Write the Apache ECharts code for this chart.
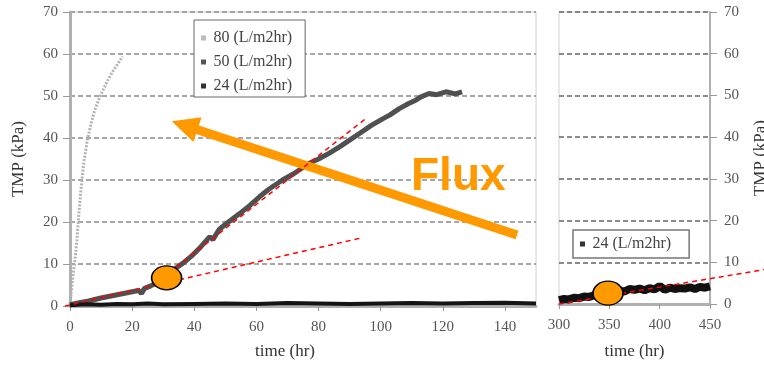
<!DOCTYPE html>
<html><head><meta charset="utf-8">
<script src="https://cdn.jsdelivr.net/npm/echarts@6/dist/echarts.min.js"></script>
<style>html,body{margin:0;padding:0;background:#fff}#c{width:764px;height:369px}</style>
</head><body><div id="c"></div>
<script>
// ---- data ----
const flux80Time = [0, 0.5, 1.0, 1.6, 2.2, 2.7, 3.2, 3.7, 4.5, 5.6, 6.8, 8.0, 9.3, 10.6, 12.2, 13.9, 15.5, 16.9];
const flux80TMP  = [0.5, 4, 7.5, 11, 15.5, 20.5, 25, 29, 34.5, 39.5, 43.5, 46.7, 49.2, 51.4, 53.8, 56, 57.8, 59.4];

const flux50Time = [0, 3, 6, 10, 14, 18, 20, 22, 23, 24, 26, 28, 30, 32, 34, 36.4, 39, 42, 45, 46, 48, 51, 54.6, 58, 61, 64, 68.4, 72, 77, 80, 83.5, 87, 90, 94, 97, 100.5, 103, 106, 109, 111.3, 113, 115.6, 118, 121, 124, 126.2];
const flux50TMP  = [0.3, 0.8, 1.2, 1.9, 2.5, 3.1, 3.4, 3.7, 3.0, 4.2, 4.8, 5.6, 6.6, 7.8, 9, 10.2, 11.8, 14, 16.5, 15.8, 18.2, 20, 22, 24, 26, 27.8, 30, 31.5, 34, 35, 36.4, 38, 39.5, 41.5, 43, 44.5, 45.5, 47, 48.2, 49, 49.8, 50.6, 50.3, 51, 50.5, 51];

const flux24TimeA = [0, 5, 10, 15, 20, 25, 30, 40, 50, 60, 70, 80, 90, 100, 110, 120, 130, 140, 150];
const flux24TMPA  = [0.2, 0.4, 0.3, 0.5, 0.4, 0.6, 0.4, 0.5, 0.6, 0.5, 0.7, 0.6, 0.5, 0.6, 0.7, 0.6, 0.7, 0.8, 0.6];

const flux24TimeB = [300, 305, 310, 315, 320, 325, 330, 335, 340, 345, 350, 355, 360, 365, 370, 375, 380, 385, 390, 395, 400, 405, 410, 415, 420, 425, 430, 435, 440, 445, 450];
const flux24TMPB  = [0.9, 1.2, 1.1, 1.5, 1.4, 1.8, 1.7, 2.1, 2.3, 2.5, 2.6, 2.9, 3.2, 3.0, 3.6, 3.4, 3.7, 3.3, 3.8, 3.5, 4.3, 3.4, 3.9, 3.6, 3.8, 3.7, 4.0, 3.6, 4.1, 3.9, 4.2];

// red dashed trend lines (endpoints)
const trendA = [[-1.6, 0], [93.7, 16.2]];
const trendB = [[32, 8], [95, 44.5]];
const trendC = [[300, 0], [505, 8.3]];

// annotation markers
const markLeft = [[31.1, 6.7]];
const markRight = [[348.7, 2.6]];
const arrowFrom = [143.9, 16.9];
const arrowTo = [36.9, 43.0];

const leftTicks = {min: 0, max: 150, interval: 20};
const rightTicks = {min: 300, max: 450, interval: 50};
const yTicks = {min: 0, max: 70, interval: 10};

const zip = (a, b) => a.map((v, i) => [v, b[i]]);

const serif = 'Liberation Serif';
const chart = echarts.init(document.getElementById('c'));

const axisLabel = {fontFamily: serif, fontSize: 15, color: '#555'};
const splitLine = {show: true, lineStyle: {color: '#8a8a8a', width: 1.5, type: [5, 3]}};
const dashRed = {color: '#ff0000', width: 1.5, type: [5, 4]};
const squareIcon = 'path://M0,0L10,0L10,10L0,10Z';

chart.setOption({
  animation: false,
  backgroundColor: '#fff',
  grid: [
    {left: 70, top: 12, width: 466, height: 294, show: true, borderColor: '#d0d0d0', borderWidth: 1,
     containLabel: false, outerBoundsMode: 'none'},
    {left: 559, top: 12, width: 151, height: 292, show: true, borderColor: '#d0d0d0', borderWidth: 1,
     containLabel: false, outerBoundsMode: 'none'}
  ],
  xAxis: [
    {gridIndex: 0, type: 'value', min: leftTicks.min, max: leftTicks.max, interval: leftTicks.interval,
     axisLine: {lineStyle: {color: '#b0b0b0', width: 3}},
     axisTick: {show: true, length: 5, lineStyle: {color: '#999'}},
     axisLabel: Object.assign({margin: 14, showMaxLabel: false}, axisLabel),
     splitLine: {show: false},
     name: 'time (hr)', nameLocation: 'middle', nameGap: 37,
     nameTextStyle: {fontFamily: serif, fontSize: 17, color: '#333', padding: [0, 36, 0, 0]}},
    {gridIndex: 1, type: 'value', min: rightTicks.min, max: rightTicks.max, interval: rightTicks.interval,
     axisLine: {lineStyle: {color: '#b0b0b0', width: 3}},
     axisTick: {show: true, length: 5, lineStyle: {color: '#999'}},
     axisLabel: Object.assign({margin: 14}, axisLabel),
     splitLine: {show: false},
     name: 'time (hr)', nameLocation: 'middle', nameGap: 39,
     nameTextStyle: {fontFamily: serif, fontSize: 17, color: '#333'}}
  ],
  yAxis: [
    {gridIndex: 0, type: 'value', min: yTicks.min, max: yTicks.max, interval: yTicks.interval,
     axisLine: {show: true, lineStyle: {color: '#b0b0b0', width: 3}},
     axisTick: {show: true, length: 7, lineStyle: {color: '#999'}},
     axisLabel: Object.assign({margin: 12}, axisLabel),
     splitLine: splitLine,
     name: 'TMP (kPa)', nameLocation: 'middle', nameGap: 43,
     nameTextStyle: {fontFamily: serif, fontSize: 17, color: '#333'}},
    {gridIndex: 1, type: 'value', position: 'right', min: yTicks.min, max: yTicks.max, interval: yTicks.interval,
     axisLine: {show: true, lineStyle: {color: '#b0b0b0', width: 2}},
     axisTick: {show: true, length: 7, lineStyle: {color: '#999'}},
     axisLabel: Object.assign({margin: 14}, axisLabel),
     splitLine: {show: true, lineStyle: {color: '#666', width: 1.5, type: [5, 3]}},
     name: 'TMP (kPa)', nameLocation: 'middle', nameGap: 42,
     nameTextStyle: {fontFamily: serif, fontSize: 17, color: '#333'}}
  ],
  legend: [
    {left: 194, top: 20, orient: 'vertical', itemGap: 8, itemWidth: 10, itemHeight: 5, icon: squareIcon,
     padding: [10, 13, 3, 7], borderColor: '#666', borderWidth: 1, backgroundColor: '#fff',
     textStyle: {fontFamily: serif, fontSize: 16, color: '#444'},
     data: ['80 (L/m2hr)', '50 (L/m2hr)', '24 (L/m2hr)'], selectedMode: false},
    {left: 573, top: 230, orient: 'vertical', itemWidth: 10, itemHeight: 5, icon: squareIcon,
     padding: [6, 18, 6, 7], borderColor: '#777', borderWidth: 1.5, backgroundColor: '#fff',
     textStyle: {fontFamily: serif, fontSize: 16, color: '#444'},
     data: ['24 (L/m2hr)'], selectedMode: false}
  ],
  graphic: [
    {id: 'flux', type: 'text', left: 411, top: 154, z: 100,
     style: {text: 'Flux', fill: '#FF9900', font: 'bold 46px "Liberation Sans", Arial, sans-serif'}}
  ],
  series: [
    {name: '80 (L/m2hr)', type: 'line', xAxisIndex: 0, yAxisIndex: 0, data: zip(flux80Time, flux80TMP),
     showSymbol: false, itemStyle: {color: '#bdbdbd'}, lineStyle: {color: '#b3b3b3', width: 3, type: [2, 1.5]}, z: 3},
    {name: '50 (L/m2hr)', type: 'line', xAxisIndex: 0, yAxisIndex: 0, data: zip(flux50Time, flux50TMP),
     showSymbol: false, itemStyle: {color: '#555'}, lineStyle: {color: '#505050', width: 5}, z: 3},
    {name: '24 (L/m2hr)', type: 'line', xAxisIndex: 0, yAxisIndex: 0, data: zip(flux24TimeA, flux24TMPA),
     showSymbol: false, itemStyle: {color: '#333'}, lineStyle: {color: '#151515', width: 4}, z: 3},
    {name: '24 (L/m2hr)', type: 'line', xAxisIndex: 1, yAxisIndex: 1, data: zip(flux24TimeB, flux24TMPB),
     showSymbol: false, itemStyle: {color: '#333'}, lineStyle: {color: '#111', width: 8}, z: 3},
    {name: 'trendB', type: 'line', xAxisIndex: 0, yAxisIndex: 0, data: trendB, showSymbol: false, clip: false,
     lineStyle: dashRed, z: 5},
    {name: 'markL', type: 'scatter', xAxisIndex: 0, yAxisIndex: 0, data: markLeft, symbol: 'circle', symbolSize: [30, 24],
     itemStyle: {color: '#FF9900', borderColor: '#000', borderWidth: 1.5, opacity: 1}, z: 6, silent: true},
    {name: 'markR', type: 'scatter', xAxisIndex: 1, yAxisIndex: 1, data: markRight, symbol: 'circle', symbolSize: [30, 24],
     itemStyle: {color: '#FF9900', borderColor: '#000', borderWidth: 1.5, opacity: 1}, z: 6, silent: true},
    {name: 'arrow', type: 'line', xAxisIndex: 0, yAxisIndex: 0, data: [], z: 8, silent: true,
     markLine: {silent: true, symbol: ['none', 'triangle'], symbolSize: [26, 27], animation: false,
       label: {show: false}, emphasis: {disabled: true},
       lineStyle: {color: '#FF9900', width: 9, type: 'solid', cap: 'butt'},
       itemStyle: {color: '#FF9900'},
       data: [[{coord: arrowFrom}, {coord: arrowTo}]]}}
  ]
});

// trend lines that run past the axis range: positions come from the axes' own scales
const pA0 = chart.convertToPixel({xAxisIndex: 0, yAxisIndex: 0}, trendA[0]);
const pA1 = chart.convertToPixel({xAxisIndex: 0, yAxisIndex: 0}, trendA[1]);
const pC0 = chart.convertToPixel({xAxisIndex: 1, yAxisIndex: 1}, trendC[0]);
const pC1 = chart.convertToPixel({xAxisIndex: 1, yAxisIndex: 1}, trendC[1]);
chart.setOption({
  graphic: [
    {id: 'trendA', type: 'line', z: 5, silent: true,
     shape: {x1: pA0[0], y1: pA0[1], x2: pA1[0], y2: pA1[1]},
     style: {stroke: '#ff0000', lineWidth: 1.5, lineDash: [5, 4]}},
    {id: 'trendC', type: 'line', z: 5, silent: true,
     shape: {x1: pC0[0], y1: pC0[1], x2: pC1[0], y2: pC1[1]},
     style: {stroke: '#ff0000', lineWidth: 1.5, lineDash: [5, 4]}}
  ]
});
</script>
</body></html>
